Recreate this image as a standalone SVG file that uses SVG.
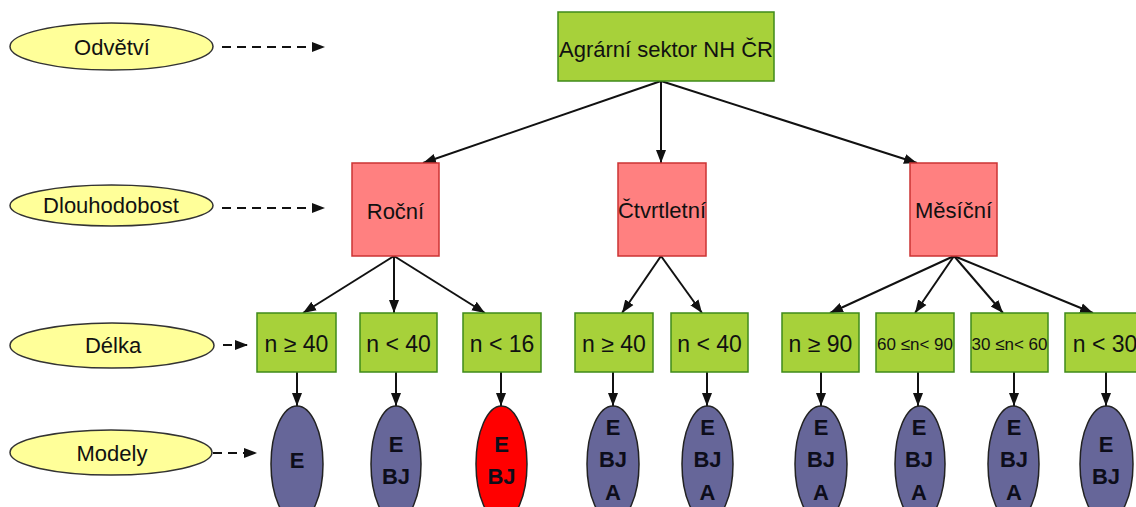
<svg xmlns="http://www.w3.org/2000/svg" width="1136" height="507" viewBox="0 0 1136 507">
<style>
text{font-family:"Liberation Sans",Arial,sans-serif;fill:#111;text-anchor:middle}
.lbl{font-size:22px}
.lv{font-size:23px}
.sm{font-size:17px}
.m{font-size:22px;font-weight:bold;fill:#0d0d1a}
.green{fill:#a7d13a;stroke:#3f8a1a;stroke-width:1.5}
.red{fill:#ff8080;stroke:#cc3333;stroke-width:1.5}
.yel{fill:#ffff99;stroke:#333;stroke-width:1.5}
.mod{fill:#666699;stroke:#222;stroke-width:1.5}
.modr{fill:#ff0000;stroke:#222;stroke-width:1.5}
.c{stroke:#111;stroke-width:2;fill:none;marker-end:url(#ah)}
.d{stroke:#111;stroke-width:2;fill:none;stroke-dasharray:9 6;marker-end:url(#ah)}
</style>
<defs>
<marker id="ah" markerUnits="userSpaceOnUse" markerWidth="14" markerHeight="12" refX="13" refY="6" orient="auto">
<path d="M0,1 L13,6 L0,11 Z" fill="#111"/>
</marker>
</defs>

<g id="connectors">
<line class="d" x1="222" y1="47" x2="325" y2="47"/>
<line class="d" x1="222" y1="208" x2="325" y2="208"/>
<line class="d" x1="223" y1="345" x2="248" y2="345"/>
<line class="d" x1="213" y1="453" x2="257" y2="453"/>
<line class="c" x1="661" y1="81" x2="423" y2="163"/>
<line class="c" x1="661" y1="81" x2="661" y2="163"/>
<line class="c" x1="661" y1="81" x2="917" y2="163"/>
<line class="c" x1="394" y1="256" x2="303" y2="313"/>
<line class="c" x1="394" y1="256" x2="394" y2="313"/>
<line class="c" x1="394" y1="256" x2="485" y2="313"/>
<line class="c" x1="661" y1="256" x2="622" y2="313"/>
<line class="c" x1="661" y1="256" x2="702" y2="313"/>
<line class="c" x1="954" y1="256" x2="830" y2="313"/>
<line class="c" x1="954" y1="256" x2="915" y2="313"/>
<line class="c" x1="954" y1="256" x2="1003" y2="313"/>
<line class="c" x1="954" y1="256" x2="1093" y2="313"/>
<line class="c" x1="297" y1="372" x2="297" y2="406"/>
<line class="c" x1="396" y1="372" x2="396" y2="406"/>
<line class="c" x1="501" y1="372" x2="501" y2="406"/>
<line class="c" x1="613" y1="372" x2="613" y2="406"/>
<line class="c" x1="707" y1="372" x2="707" y2="406"/>
<line class="c" x1="821" y1="372" x2="821" y2="406"/>
<line class="c" x1="918" y1="372" x2="918" y2="406"/>
<line class="c" x1="1014" y1="372" x2="1014" y2="406"/>
<line class="c" x1="1106" y1="372" x2="1106" y2="406"/>
</g>

<g id="leg-odvetvi"><ellipse class="yel" cx="111.5" cy="46.5" rx="101.5" ry="23.5"/><text class="lbl" x="112" y="55">Odvětví</text></g>
<g id="leg-dlouhodobost"><ellipse class="yel" cx="111.5" cy="205.5" rx="101.5" ry="20.5"/><text class="lbl" x="111" y="213">Dlouhodobost</text></g>
<g id="leg-delka"><ellipse class="yel" cx="112" cy="345.5" rx="102" ry="22.5"/><text class="lbl" x="113" y="353">Délka</text></g>
<g id="leg-modely"><ellipse class="yel" cx="111" cy="452.5" rx="101" ry="22.5"/><text class="lbl" x="112" y="461">Modely</text></g>

<g id="root"><rect class="green" x="558" y="12" width="216" height="69"/><text class="lbl" x="666" y="57">Agrární sektor NH ČR</text></g>

<g id="rocni"><rect class="red" x="352" y="163" width="87" height="93"/><text class="lbl" x="395.5" y="219">Roční</text></g>
<g id="ctvrtletni"><rect class="red" x="618" y="163" width="88" height="93"/><text class="lbl" x="662" y="218">Čtvrtletní</text></g>
<g id="mesicni"><rect class="red" x="910" y="163" width="87" height="93"/><text class="lbl" x="953.5" y="218">Měsíční</text></g>

<g id="l1"><rect class="green" x="257" y="313" width="79" height="59"/><text class="lv" x="296.5" y="352">n ≥ 40</text></g>
<g id="l2"><rect class="green" x="360" y="313" width="77" height="59"/><text class="lv" x="398.5" y="352">n &lt; 40</text></g>
<g id="l3"><rect class="green" x="463" y="313" width="78" height="59"/><text class="lv" x="502" y="352">n &lt; 16</text></g>
<g id="l4"><rect class="green" x="575" y="313" width="78" height="59"/><text class="lv" x="614" y="352">n ≥ 40</text></g>
<g id="l5"><rect class="green" x="671" y="313" width="77" height="59"/><text class="lv" x="709.5" y="352">n &lt; 40</text></g>
<g id="l6"><rect class="green" x="782" y="313" width="77" height="59"/><text class="lv" x="820.5" y="352">n ≥ 90</text></g>
<g id="l7"><rect class="green" x="876" y="313" width="78" height="59"/><text class="sm" x="915" y="350">60 ≤n&lt; 90</text></g>
<g id="l8"><rect class="green" x="971" y="313" width="77" height="59"/><text class="sm" x="1009.5" y="350">30 ≤n&lt; 60</text></g>
<g id="l9"><rect class="green" x="1065" y="313" width="80" height="59"/><text class="lv" x="1105" y="352">n &lt; 30</text></g>

<g id="m1"><ellipse class="mod" cx="297" cy="464" rx="26" ry="58"/><text class="m" x="297" y="468">E</text></g>
<g id="m2"><ellipse class="mod" cx="396" cy="464" rx="25" ry="58"/><text class="m" x="396" y="452">E</text><text class="m" x="396" y="484">BJ</text></g>
<g id="m3"><ellipse class="modr" cx="501.5" cy="464" rx="25.5" ry="58"/><text class="m" x="501.5" y="452">E</text><text class="m" x="501.5" y="484">BJ</text></g>
<g id="m4"><ellipse class="mod" cx="613" cy="464" rx="26" ry="58"/><text class="m" x="613" y="435">E</text><text class="m" x="613" y="467">BJ</text><text class="m" x="613" y="500">A</text></g>
<g id="m5"><ellipse class="mod" cx="707.5" cy="464" rx="25.5" ry="58"/><text class="m" x="707.5" y="435">E</text><text class="m" x="707.5" y="467">BJ</text><text class="m" x="707.5" y="500">A</text></g>
<g id="m6"><ellipse class="mod" cx="821" cy="464" rx="26" ry="58"/><text class="m" x="821" y="435">E</text><text class="m" x="821" y="467">BJ</text><text class="m" x="821" y="500">A</text></g>
<g id="m7"><ellipse class="mod" cx="920" cy="464" rx="25" ry="58"/><text class="m" x="919" y="435">E</text><text class="m" x="919" y="467">BJ</text><text class="m" x="919" y="500">A</text></g>
<g id="m8"><ellipse class="mod" cx="1013.5" cy="464" rx="25.5" ry="58"/><text class="m" x="1014" y="435">E</text><text class="m" x="1014" y="467">BJ</text><text class="m" x="1014" y="500">A</text></g>
<g id="m9"><ellipse class="mod" cx="1106.5" cy="464" rx="26.5" ry="58"/><text class="m" x="1106" y="452">E</text><text class="m" x="1106" y="484">BJ</text></g>
</svg>
